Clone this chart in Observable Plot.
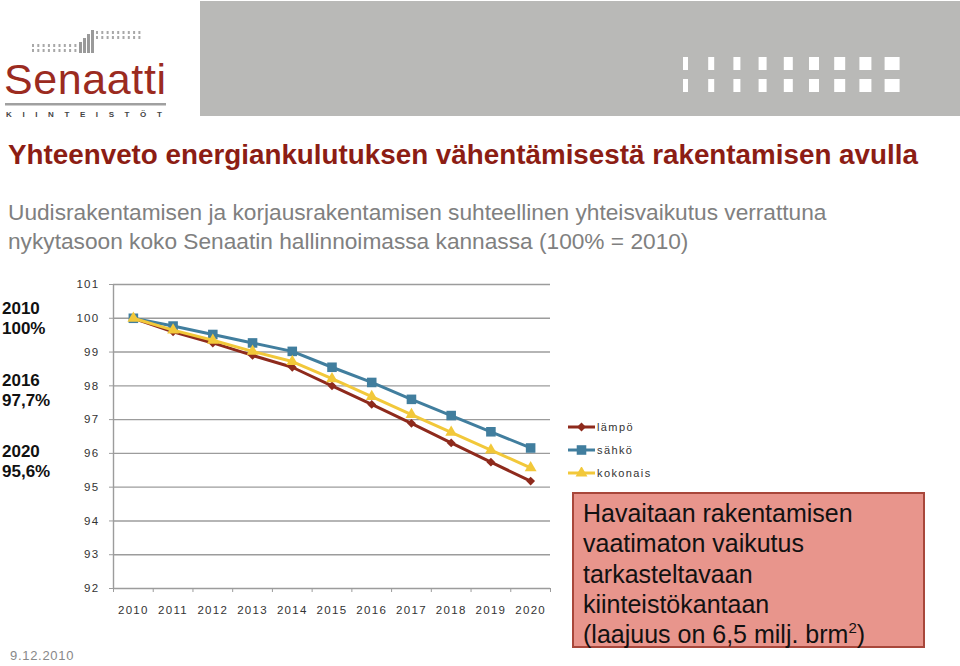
<!DOCTYPE html>
<html>
<head>
<meta charset="utf-8">
<script src="https://cdn.jsdelivr.net/npm/d3@7"></script>
<script src="https://cdn.jsdelivr.net/npm/@observablehq/plot@0.6"></script>
<style>
  html, body { margin: 0; padding: 0; background: #fff; }
  #page { position: relative; width: 960px; height: 666px; overflow: hidden; font-family: "Liberation Sans", Arial, sans-serif; }
  .abs { position: absolute; }
  #header { left: 200px; top: 1px; width: 760px; height: 115px; background: #b9b9b7; }
  #title { left: 8px; top: 139px; font-size: 27.8px; font-weight: bold; color: #8c1d14; white-space: nowrap; }
  #subtitle { left: 8px; top: 198px; font-size: 22.7px; color: #808080; line-height: 28.5px; white-space: nowrap; }
  .pct { left: 2px; font-size: 17px; font-weight: bold; color: #111; line-height: 20px; }
  #legend { left: 567px; top: 415px; font-size: 11px; letter-spacing: 1.4px; color: #333; }
  .lg { display: flex; align-items: center; height: 23px; }
  #box { left: 572px; top: 492px; width: 353px; height: 156px; background: #e8958c; border: 2px solid #a8473b; box-sizing: border-box; }
  #box div { position: absolute; left: 9px; top: 4px; font-size: 25px; line-height: 30.3px; color: #111; white-space: nowrap; }
  #date { left: 10px; top: 648px; font-size: 13px; color: #888; letter-spacing: 0.7px; }
  #chart { left: 60px; top: 270px; }
</style>
</head>
<body>
<div id="page">
  <svg class="abs" style="left:0;top:0" width="200" height="130" id="logo"></svg>
  <div id="header" class="abs"><svg id="hdr" width="760" height="115"></svg></div>
  <div id="title" class="abs">Yhteenveto energiankulutuksen vähentämisestä rakentamisen avulla</div>
  <div id="subtitle" class="abs">Uudisrakentamisen ja korjausrakentamisen suhteellinen yhteisvaikutus verrattuna<br>nykytasoon koko Senaatin hallinnoimassa kannassa (100% = 2010)</div>
  <div class="abs pct" style="top:299px">2010<br>100%</div>
  <div class="abs pct" style="top:371px">2016<br>97,7%</div>
  <div class="abs pct" style="top:442px">2020<br>95,6%</div>
  <div id="chart" class="abs"></div>
  <div id="legend" class="abs"></div>
  <div id="box" class="abs"><div>Havaitaan rakentamisen<br>vaatimaton vaikutus<br>tarkasteltavaan<br>kiinteistökantaan<br>(laajuus on 6,5 milj. brm<sup style="font-size:15px;vertical-align:10px;line-height:0">2</sup>)</div></div>
  <div id="date" class="abs">9.12.2010</div>
</div>
<script>
// ---- data ----
const years = [2010, 2011, 2012, 2013, 2014, 2015, 2016, 2017, 2018, 2019, 2020];
const lampo    = [100, 99.60, 99.27, 98.90, 98.55, 98.00, 97.45, 96.89, 96.31, 95.74, 95.18];
const sahko    = [100, 99.77, 99.52, 99.27, 99.02, 98.55, 98.10, 97.60, 97.12, 96.64, 96.16];
const kokonais = [100, 99.65, 99.35, 99.02, 98.72, 98.21, 97.68, 97.15, 96.62, 96.10, 95.57];
const seriesNames = ["lämpö", "sähkö", "kokonais"];
const yTicks = [92, 93, 94, 95, 96, 97, 98, 99, 100, 101];

const series = [
  {name: seriesNames[0], values: lampo,    color: "#8e2a1c", symbol: "diamond2", r: 4.0},
  {name: seriesNames[1], values: sahko,    color: "#417e9e", symbol: "square",   r: 5.4},
  {name: seriesNames[2], values: kokonais, color: "#f2c83a", symbol: "triangle", r: 4.4}
];
const rows = series.map(s => years.map((yr, i) => ({year: yr, value: s.values[i], name: s.name})));
const boundaries = [...years.map(y => y - 0.5), years[years.length - 1] + 0.5];

const marks = [
  Plot.gridY(yTicks, {stroke: "#9c9c9c", strokeOpacity: 1, strokeWidth: 1.4}),
  Plot.axisY(yTicks, {tickSize: 4, tickPadding: 10, stroke: "#9c9c9c", label: null}),
  Plot.ruleX([boundaries[0]], {stroke: "#9c9c9c", strokeWidth: 1.4}),
  Plot.axisX(boundaries, {tickSize: 4, tickFormat: () => "", stroke: "#9c9c9c", label: null}),
  Plot.axisX(years, {tickSize: 0, tickPadding: 17, tickFormat: d => String(d), label: null})
];
series.forEach((s, k) => {
  marks.push(Plot.line(rows[k], {x: "year", y: "value", stroke: s.color, strokeWidth: 3}));
  marks.push(Plot.dot(rows[k], {x: "year", y: "value", fill: s.color, stroke: "none", symbol: () => s.symbol, r: s.r}));
});

const chart = Plot.plot({
  width: 500, height: 350,
  marginLeft: 53, marginRight: 10, marginTop: 14, marginBottom: 32,
  x: {domain: [boundaries[0], boundaries[boundaries.length - 1]]},
  y: {domain: [92, 101]},
  style: {fontFamily: "'Liberation Sans', Arial, sans-serif", fontSize: "11.5px", letterSpacing: "1.3px", color: "#333", background: "transparent", overflow: "visible"},
  marks
});
document.getElementById("chart").appendChild(chart);

// ---- legend ----
const legend = d3.select("#legend");
series.forEach(s => {
  const row = legend.append("div").attr("class", "lg");
  const sv = row.append("svg").attr("width", 30).attr("height", 12);
  sv.append("line").attr("x1", 1).attr("x2", 28).attr("y1", 6).attr("y2", 6).attr("stroke", s.color).attr("stroke-width", 3);
  const sym = {diamond2: d3.symbolDiamond2, square: d3.symbolSquare, triangle: d3.symbolTriangle}[s.symbol];
  sv.append("path").attr("transform", "translate(14.5,6)").attr("d", d3.symbol(sym, Math.PI * s.r * s.r)()).attr("fill", s.color);
  row.append("span").text(s.name);
});

// ---- logo ----
const logo = d3.select("#logo");
for (let c = 0; c < 9; c++) for (let r = 0; r < 2; r++)
  logo.append("rect").attr("x", 32 + c * 5.3).attr("y", 44 + r * 5).attr("width", 2).attr("height", 3).attr("fill", "#a8a8a8");
[[79, 42], [83, 38], [87, 34], [91, 30]].forEach(([x, t]) =>
  logo.append("rect").attr("x", x).attr("y", t).attr("width", 3).attr("height", 53 - t).attr("fill", "#9a9a9a"));
for (let c = 0; c < 9; c++) for (let r = 0; r < 2; r++)
  logo.append("rect").attr("x", 96 + c * 5.3).attr("y", 31 + r * 5).attr("width", 2).attr("height", 3).attr("fill", "#a8a8a8");
logo.append("text").attr("x", 4).attr("y", 94).attr("font-size", 43).attr("font-family", "'Liberation Sans', Arial, sans-serif")
  .attr("fill", "#9b2b1f").attr("letter-spacing", 0.6).text("Senaatti");
logo.append("rect").attr("x", 5).attr("y", 103).attr("width", 161).attr("height", 2.5).attr("fill", "#a0a0a0");
logo.append("text").attr("x", 6).attr("y", 117).attr("font-size", 8).attr("font-weight", "bold").attr("font-family", "'Liberation Sans', Arial, sans-serif")
  .attr("fill", "#444").attr("letter-spacing", 10.6).text("KIINTEISTÖT");

// ---- header decoration ----
const hdr = d3.select("#hdr");
[5, 6, 7, 8, 9, 10, 11, 12, 15].forEach((w, i) => {
  [56, 78].forEach(y => hdr.append("rect").attr("x", 483 + i * 25.2).attr("y", y).attr("width", w).attr("height", 13).attr("fill", "#fff"));
});
</script>
</body>
</html>
